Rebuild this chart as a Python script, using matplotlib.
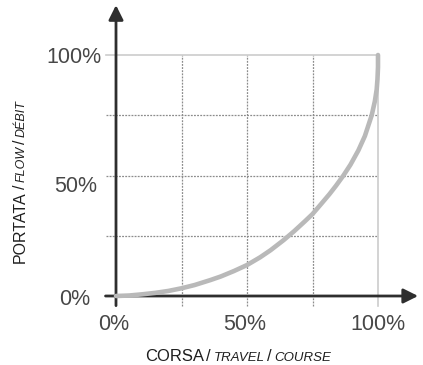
import matplotlib
matplotlib.use('Agg')
import matplotlib.pyplot as plt
from matplotlib.transforms import IdentityTransform

# valve characteristic (travel %, flow %)
travel = [0, 5, 10, 15, 20, 25, 30, 36, 40, 45, 50, 55, 59, 64, 68, 72, 75,
          78, 81.5, 84, 86.8, 89.5, 92.5, 95, 97.6, 98.8, 99.5, 99.8, 100, 100]
flow = [0, 0.2, 0.7, 1.3, 2.1, 3.2, 4.55, 6.6, 8.1, 10.35, 12.85, 16.05, 19, 23.2, 26.9, 30.9, 34,
        37.8, 42.3, 45.8, 50, 54.5, 60.4, 66.4, 75, 80.8, 85.7, 90, 95, 100]

tick_values = [0, 50, 100]
tick_labels = ['0%', '50%', '100%']
grid_values = [25, 50, 75]

xlabel_parts = [('CORSA', False), ('/', False), ('TRAVEL', True), ('/', False), ('COURSE', True)]
ylabel_parts = [('PORTATA', False), ('/', False), ('FLOW', True), ('/', False), ('DÉBIT', True)]

W, H = 423, 365
fig = plt.figure(figsize=(W / 100, H / 100), dpi=100)
fig.patch.set_facecolor('white')
ax = fig.add_axes([116 / W, 69 / H, 262 / W, 241 / H])
ax.set_xlim(0, 100)
ax.set_ylim(0, 100)
ax.axis('off')

label_font = dict(family='Liberation Sans')
tick_font = dict(family='Liberation Sans', size=15.5, color='#474747')

# grid
for g in grid_values:
    ax.plot([-4, 100], [g, g], color='#8c8c8c', lw=0.9, ls=(0, (1.5, 1)), clip_on=False, zorder=1)
    ax.plot([g, g], [-4, 100], color='#8c8c8c', lw=0.9, ls=(0, (1.5, 1)), clip_on=False, zorder=1)
ax.plot([-4, 100], [100, 100], color='#cccccc', lw=1.2, clip_on=False, zorder=1)
ax.plot([100, 100], [-4, 100], color='#cccccc', lw=1.2, clip_on=False, zorder=1)

# axes with arrows
arrow = dict(arrowstyle='-|>', color='#2e2e2e', lw=2, mutation_scale=22, shrinkA=0, shrinkB=0)
ax.annotate('', xy=(115.3, 0), xytext=(-4, 0), arrowprops=arrow, annotation_clip=False, zorder=3)
ax.annotate('', xy=(0, 120.7), xytext=(0, -4), arrowprops=arrow, annotation_clip=False, zorder=3)

# curve
ax.plot(travel, flow, color='#b9b9b9', lw=3.3, solid_capstyle='round',
        solid_joinstyle='round', clip_on=False, zorder=4)

# tick labels (placement follows the original drawing)
ytick_x = [-9.9, -7.3, -5.5]
ytick_y = [-3.7, 43.2, 96.7]
for lab, xx, yy in zip(tick_labels, ytick_x, ytick_y):
    ax.text(xx, yy, lab, ha='right', va='baseline', **tick_font)
xtick_x = [-0.8, 49, 99.8]
for lab, xx in zip(tick_labels, xtick_x):
    ax.text(xx, -14.1, lab, ha='center', va='baseline', **tick_font)


def draw_parts(parts, center, base, big, small, vertical):
    renderer = fig.canvas.get_renderer()
    gap = 2.5
    made = []
    for text, italic in parts:
        t = fig.text(0, 0, text, transform=IdentityTransform(),
                     rotation=90 if vertical else 0, rotation_mode='anchor',
                     ha='left', va='baseline', color='#1e1e1e',
                     size=small if italic else big,
                     style='italic' if italic else 'normal', **label_font)
        bb = t.get_window_extent(renderer)
        made.append((t, bb.height if vertical else bb.width))
    total = sum(l for _, l in made) + gap * (len(made) - 1)
    pos = center - total / 2
    for t, l in made:
        t.set_position((base, pos) if vertical else (pos, base))
        pos += l + gap


draw_parts(xlabel_parts, 238, 4, 12, 9.5, vertical=False)
draw_parts(ylabel_parts, 365 - 181.5, 25, 11.5, 9, vertical=True)

fig.savefig('out.png', dpi=100, facecolor='white')
